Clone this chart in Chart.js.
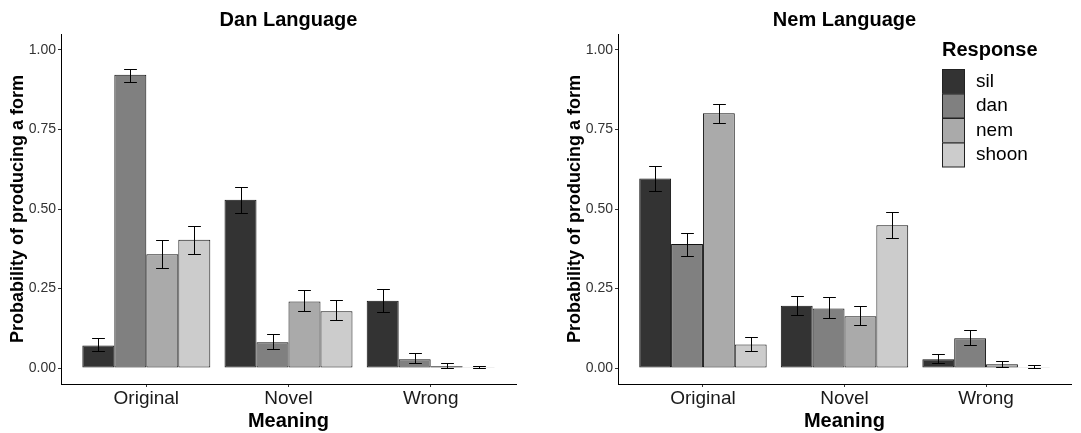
<!DOCTYPE html>
<html>
<head>
<meta charset="utf-8">
<script src="https://cdn.jsdelivr.net/npm/chart.js@4"></script>
<style>
  html, body { margin: 0; padding: 0; background: #fff; }
  .panel { position: absolute; top: 0; height: 433px; }
  #left { left: 0; width: 540px; }
  #right { left: 540px; width: 541px; }
</style>
</head>
<body>
<div class="panel" id="left"><canvas id="chartDan" width="540" height="433"></canvas></div>
<div class="panel" id="right"><canvas id="chartNem" width="541" height="433"></canvas></div>
<script>
// categories and series
const meanings = ['Original', 'Novel', 'Wrong'];
const responses = ['sil', 'dan', 'nem', 'shoon'];
const yTicks = [0, 0.25, 0.5, 0.75, 1];

// Dan language: one row per response, one value per meaning
const danMean = [
  [0.071, 0.529, 0.212],
  [0.922, 0.081, 0.028],
  [0.358, 0.209, 0.006],
  [0.403, 0.179, 0.001]
];
const danLow = [
  [0.054, 0.489, 0.177],
  [0.900, 0.060, 0.016],
  [0.316, 0.179, 0.000],
  [0.360, 0.150, 0.000]
];
const danHigh = [
  [0.094, 0.568, 0.250],
  [0.941, 0.107, 0.047],
  [0.402, 0.245, 0.015],
  [0.447, 0.213, 0.006]
];

// Nem language
const nemMean = [
  [0.596, 0.196, 0.028],
  [0.390, 0.187, 0.094],
  [0.801, 0.163, 0.012],
  [0.074, 0.449, 0.003]
];
const nemLow = [
  [0.558, 0.166, 0.016],
  [0.353, 0.159, 0.073],
  [0.769, 0.136, 0.003],
  [0.055, 0.410, 0.000]
];
const nemHigh = [
  [0.634, 0.228, 0.044],
  [0.426, 0.222, 0.120],
  [0.831, 0.195, 0.022],
  [0.097, 0.490, 0.010]
];

const fillColors = ['#333333', '#808080', '#aaaaaa', '#cccccc'];
const FONT = '"Liberation Sans", Arial, Helvetica, sans-serif';

function makeDatasets(mean, low, high) {
  const datasets = [];
  for (let i = 0; i < responses.length; i++) {
    const points = [];
    for (let j = 0; j < meanings.length; j++) {
      points.push({ x: j + 1, y: mean[i][j], lo: low[i][j], hi: high[i][j] });
    }
    datasets.push({
      label: responses[i],
      data: points,
      backgroundColor: fillColors[i],
      borderColor: '#111111',
      borderWidth: 1,
      borderSkipped: false,
      categoryPercentage: 0.9,
      barPercentage: 1.0
    });
  }
  return datasets;
}

// error bars drawn from the y scale
const errorBars = {
  id: 'errorBars',
  afterDatasetsDraw(chart) {
    const ctx = chart.ctx;
    const yScale = chart.scales.y;
    ctx.save();
    ctx.strokeStyle = '#000';
    ctx.lineWidth = 1;
    chart.data.datasets.forEach((ds, i) => {
      const meta = chart.getDatasetMeta(i);
      meta.data.forEach((bar, j) => {
        const p = ds.data[j];
        const x = Math.round(bar.x) + 0.5;
        const half = bar.width * 0.2;
        const yLo = Math.round(yScale.getPixelForValue(p.lo)) + 0.5;
        const yHi = Math.round(yScale.getPixelForValue(p.hi)) + 0.5;
        ctx.beginPath();
        ctx.moveTo(x, yLo);
        ctx.lineTo(x, yHi);
        ctx.moveTo(x - half, yLo);
        ctx.lineTo(x + half, yLo);
        ctx.moveTo(x - half, yHi);
        ctx.lineTo(x + half, yHi);
        ctx.stroke();
      });
    });
    ctx.restore();
  }
};

// legend inside the right panel
const responseLegend = {
  id: 'responseLegend',
  afterDraw(chart, args, opts) {
    if (!opts.show) return;
    const ctx = chart.ctx;
    const x0 = opts.x, y0 = opts.y;
    ctx.save();
    ctx.fillStyle = '#000';
    ctx.font = 'bold 20px ' + FONT;
    ctx.textBaseline = 'middle';
    ctx.textAlign = 'left';
    ctx.fillText('Response', x0, y0 - 19);
    for (let i = 0; i < responses.length; i++) {
      const top = y0 + i * 24.5;
      ctx.fillStyle = fillColors[i];
      ctx.fillRect(x0, top, 22, 24.5);
      ctx.strokeStyle = '#222';
      ctx.lineWidth = 1;
      ctx.strokeRect(x0 + 0.5, top + 0.5, 22, 24);
      ctx.fillStyle = '#000';
      ctx.font = '19px ' + FONT;
      ctx.fillText(responses[i], x0 + 34, top + 12.5);
    }
    ctx.restore();
  }
};

function makeChart(canvasId, title, mean, low, high, geo) {
  const canvas = document.getElementById(canvasId);
  return new Chart(canvas, {
    type: 'bar',
    data: { datasets: makeDatasets(mean, low, high) },
    plugins: [errorBars, responseLegend],
    options: {
      responsive: false,
      animation: false,
      layout: { padding: { left: 0, right: geo.right, top: 0, bottom: 0 } },
      plugins: {
        legend: { display: false },
        tooltip: { enabled: false },
        title: {
          display: true,
          text: title,
          fullSize: false,
          color: '#000',
          font: { family: FONT, size: 20, weight: 'bold', lineHeight: 1.2 },
          padding: { top: 8, bottom: 2 }
        },
        responseLegend: geo.legend
      },
      scales: {
        x: {
          type: 'linear',
          min: 0.4,
          max: 3.6,
          offset: false,
          afterBuildTicks: (scale) => {
            scale.ticks = meanings.map((m, k) => ({ value: k + 1 }));
          },
          afterFit: (scale) => { scale.height = 49; },
          ticks: {
            autoSkip: false,
            maxRotation: 0,
            padding: 0,
            color: '#1a1a1a',
            font: { family: FONT, size: 19 },
            callback: (v) => meanings[v - 1]
          },
          grid: { display: true, drawOnChartArea: false, drawTicks: true, tickLength: 3, tickColor: '#333', offset: false },
          border: { display: true, color: '#000', width: 1 },
          title: {
            display: true,
            text: 'Meaning',
            color: '#000',
            font: { family: FONT, size: 20, weight: 'bold', lineHeight: 1.2 },
            padding: { top: 0, bottom: 0 }
          }
        },
        y: {
          min: -0.05,
          max: 1.05,
          afterBuildTicks: (scale) => {
            scale.ticks = yTicks.map(v => ({ value: v }));
          },
          afterFit: (scale) => { scale.width = geo.left; },
          ticks: {
            padding: 2,
            color: '#333',
            font: { family: FONT, size: 14 },
            callback: (v) => v.toFixed(2)
          },
          grid: { display: true, drawOnChartArea: false, drawTicks: true, tickLength: 3, tickColor: '#333' },
          border: { display: true, color: '#000', width: 1 },
          title: {
            display: true,
            text: 'Probability of producing a form',
            color: '#000',
            font: { family: FONT, size: 18, weight: 'bold', lineHeight: 1.2 },
            padding: { top: geo.titlePad, bottom: 0 }
          }
        }
      }
    }
  });
}

makeChart('chartDan', 'Dan Language', danMean, danLow, danHigh,
  { left: 61, right: 24, titlePad: 7, legend: { show: false } });
makeChart('chartNem', 'Nem Language', nemMean, nemLow, nemHigh,
  { left: 78, right: 10, titlePad: 24, legend: { show: true, x: 402, y: 69 } });
</script>
</body>
</html>
